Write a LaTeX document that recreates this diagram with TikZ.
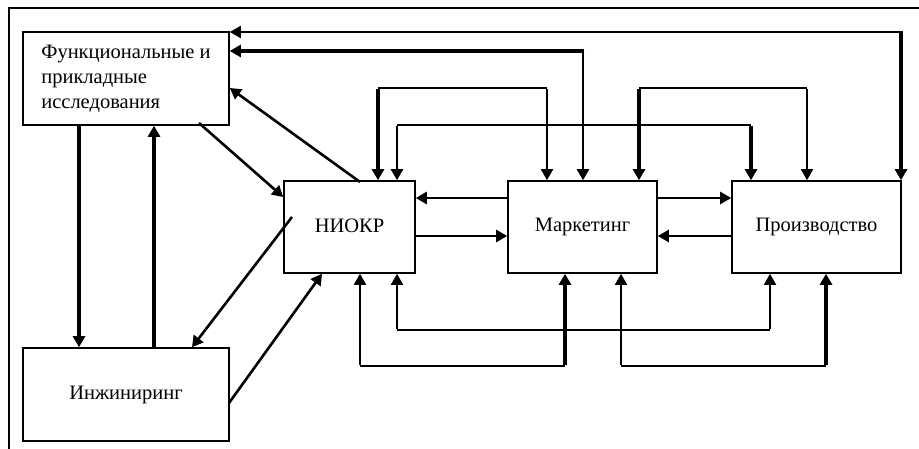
\documentclass[tikz,border=0pt]{standalone}
\usepackage{fontspec}
\setmainfont{Liberation Serif}
\usetikzlibrary{arrows.meta}
\begin{document}
\begin{tikzpicture}[x=1pt,y=-1pt,
  box/.style={draw,line width=1.6pt,rectangle,inner sep=0pt,font=\fontsize{20.5}{25}\selectfont},
  th/.style={line width=1.8pt},
  md/.style={line width=2.6pt},
  tk/.style={line width=4.5pt},
  arr/.style={-{Triangle[length=11pt,width=12pt]}},
  frame/.style={line width=1.3pt}
]
\useasboundingbox (0,0) rectangle (919,449);
% outer frame (top and left only)
\coordinate (ftl) at (9,8);
\coordinate (ftr) at (919,8);
\coordinate (fbl) at (9,449);
\draw[frame] (ftr) -- (ftl) -- (fbl);

% boxes
\node[box,minimum width=206pt,minimum height=93pt,align=left] (fun) at (126,78.5)
  {Функциональные и\\прикладные\\исследования};
\node[box,minimum width=131pt,minimum height=92pt] (nio) at (349.5,227) {\raisebox{3pt}{НИОКР}};
\node[box,minimum width=149pt,minimum height=92pt] (mar) at (582.5,227) {\raisebox{2pt}{Маркетинг}};
\node[box,minimum width=169pt,minimum height=92pt] (pro) at (816.5,227) {\raisebox{2pt}{Производство}};
\node[box,minimum width=206pt,minimum height=93pt] (inz) at (126,394.5) {Инжиниринг};

% line 1: Производство <-> Функциональные (y=32)
\coordinate (c1) at (901,32);
\draw[tk,arr] (c1) -- (pro.north -| c1);
\draw[th,arr] ([xshift=2pt]c1) -- (fun.east |- c1);

% line 2: Маркетинг <-> Функциональные (y=51)
\coordinate (c2) at (583,51);
\draw[md,arr] (c2) -- (mar.north -| c2);
\draw[tk,arr] ([xshift=1.3pt]c2) -- (fun.east |- c2);

% line 3: НИОКР <-> Маркетинг (y=88)
\coordinate (c3a) at (378,88);
\coordinate (c3b) at (547,88);
\draw[th] (c3a) -- (c3b);
\draw[tk,arr] ([yshift=-0.9pt]c3a) -- (nio.north -| c3a);
\draw[th,arr] ([yshift=-0.9pt]c3b) -- (mar.north -| c3b);

% line 4: НИОКР <-> Производство (y=125)
\coordinate (c4a) at (397,125);
\coordinate (c4b) at (751,125);
\draw[th] (c4a) -- (c4b);
\draw[md,arr] ([yshift=-0.9pt]c4a) -- (nio.north -| c4a);
\draw[tk,arr] ([yshift=-0.9pt]c4b) -- (pro.north -| c4b);

% line 5: Маркетинг <-> Производство (y=88)
\coordinate (c5a) at (639,88);
\coordinate (c5b) at (807,88);
\draw[th] (c5a) -- (c5b);
\draw[tk,arr] ([yshift=-0.9pt]c5a) -- (mar.north -| c5a);
\draw[th,arr] ([yshift=-0.9pt]c5b) -- (pro.north -| c5b);

% horizontal arrows between boxes
\draw[md,arr] (mar.west |- 0,198) -- (nio.east |- 0,198);
\draw[md,arr] (nio.east |- 0,236) -- (mar.west |- 0,236);
\draw[md,arr] (mar.east |- 0,198) -- (pro.west |- 0,198);
\draw[md,arr] (pro.west |- 0,236) -- (mar.east |- 0,236);

% diagonals
\coordinate (d1) at (199,123);
\draw[md,arr] (d1) -- (nio.west |- 0,197);
\coordinate (d2) at (360,182);
\draw[md,arr] (d2) -- (fun.east |- 0,88);
\coordinate (d3) at (292,217);
\draw[md,arr] (d3) -- (inz.north -| 192,0);
\coordinate (d4) at (229,403);
\draw[md,arr] (d4) -- (nio.south -| 322,0);

% verticals between Функциональные and Инжиниринг
\draw[tk,arr] (fun.south -| 79,0) -- (inz.north -| 79,0);
\draw[tk,arr] (inz.north -| 154,0) -- (fun.south -| 154,0);

% bottom line A: НИОКР <-> Маркетинг (y=366)
\coordinate (a1) at (360,366);
\coordinate (a2) at (565,366);
\draw[th] (a1) -- (a2);
\draw[th,arr] ([yshift=0.9pt]a1) -- (nio.south -| a1);
\draw[tk,arr] ([yshift=0.9pt]a2) -- (mar.south -| a2);

% bottom line B: НИОКР <-> Производство (y=330)
\coordinate (b1) at (397,330);
\coordinate (b2) at (770,330);
\draw[th] (b1) -- (b2);
\draw[th,arr] ([yshift=0.9pt]b1) -- (nio.south -| b1);
\draw[th,arr] ([yshift=0.9pt]b2) -- (pro.south -| b2);

% bottom line C: Маркетинг <-> Производство (y=366)
\coordinate (e1) at (621,366);
\coordinate (e2) at (826,366);
\draw[th] (e1) -- (e2);
\draw[th,arr] ([yshift=0.9pt]e1) -- (mar.south -| e1);
\draw[tk,arr] ([yshift=0.9pt]e2) -- (pro.south -| e2);
\end{tikzpicture}
\end{document}
